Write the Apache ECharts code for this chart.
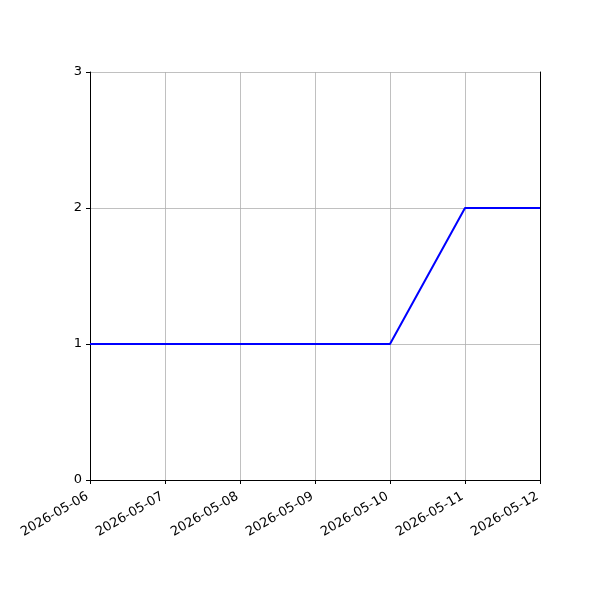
<!DOCTYPE html>
<html>
<head>
<meta charset="utf-8">
<script src="https://cdn.jsdelivr.net/npm/echarts@6/dist/echarts.min.js"></script>
<style>
  html, body { margin: 0; padding: 0; background: #fff; }
  #main { width: 600px; height: 600px; }
</style>
</head>
<body>
<div id="main"></div>
<script>
var dates = ['2026-05-06', '2026-05-07', '2026-05-08', '2026-05-09', '2026-05-10', '2026-05-11', '2026-05-12'];
var counts = [1, 1, 1, 1, 1, 2, 2];
var yTicks = [0, 1, 2, 3];

var chart = echarts.init(document.getElementById('main'));
var font = 'DejaVu Sans';

var option = {
    animation: false,
    grid: {
        left: 90,
        right: 60,
        top: 72,
        bottom: 120
    },
    xAxis: [{
        type: 'category',
        data: dates,
        boundaryGap: false,
        axisLine: { lineStyle: { color: '#000', width: 1 } },
        axisTick: { show: true, inside: false, length: 4, alignWithLabel: true, lineStyle: { color: '#000' } },
        axisLabel: {
            rotate: 30,
            color: '#000',
            fontFamily: font,
            fontSize: 13,
            margin: 14,
            padding: [0, 3, 0, 0],
            interval: 0
        },
        splitLine: { show: true, lineStyle: { color: '#b0b0b0', width: 0.8 } }
    }, {
        type: 'category',
        data: dates,
        boundaryGap: false,
        position: 'top',
        axisLine: { lineStyle: { color: '#000', width: 1 } },
        axisTick: { show: false },
        axisLabel: { show: false },
        splitLine: { show: false }
    }],
    yAxis: [{
        type: 'value',
        min: yTicks[0],
        max: yTicks[yTicks.length - 1],
        interval: 1,
        axisLine: { show: true, lineStyle: { color: '#000', width: 1 } },
        axisTick: { show: true, inside: false, length: 4, lineStyle: { color: '#000' } },
        axisLabel: { color: '#000', fontFamily: font, fontSize: 13, margin: 8 },
        splitLine: { show: true, lineStyle: { color: '#b0b0b0', width: 0.8 } }
    }, {
        type: 'value',
        position: 'right',
        min: yTicks[0],
        max: yTicks[yTicks.length - 1],
        interval: 1,
        axisLine: { show: true, lineStyle: { color: '#000', width: 1 } },
        axisTick: { show: false },
        axisLabel: { show: false },
        splitLine: { show: false }
    }],
    series: [{
        type: 'line',
        data: counts,
        symbol: 'none',
        lineStyle: { color: '#0000ff', width: 2 },
        z: 3
    }]
};
chart.setOption(option);
</script>
</body>
</html>
